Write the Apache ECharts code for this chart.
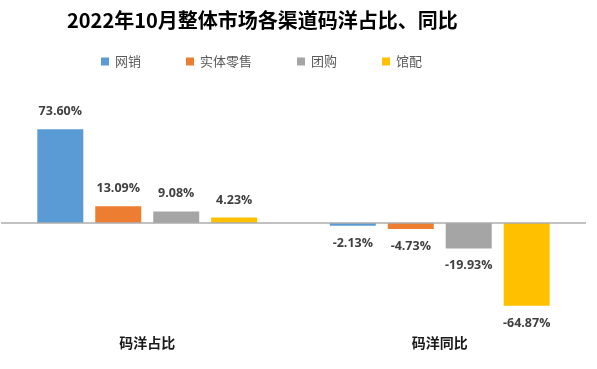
<!DOCTYPE html>
<html><head><meta charset="utf-8">
<script src="https://cdn.jsdelivr.net/npm/echarts@6/dist/echarts.min.js"></script>
<style>html,body{margin:0;padding:0;background:#fff}#c{width:597px;height:369px}</style>
</head><body><div id="c"></div>
<script>
const categories = ['码洋占比', '码洋同比'];
const seriesNames = ['网销', '实体零售', '团购', '馆配'];
const wangxiao = [73.60, -2.13];
const shiti = [13.09, -4.73];
const tuangou = [9.08, -19.93];
const guanpei = [4.23, -64.87];
const colors = ['#5B9BD5', '#ED7D31', '#A5A5A5', '#FFC000'];
const allValues = [wangxiao, shiti, tuangou, guanpei];

const chart = echarts.init(document.getElementById('c'));
const series = allValues.map((vals, i) => ({
  name: seriesNames[i],
  type: 'bar',
  barWidth: 46,
  barGap: '26%',
  itemStyle: { color: colors[i] },
  data: vals.map(v => ({
    value: v,
    label: { position: v < 0 ? 'bottom' : 'top' }
  })),
  label: {
    show: true,
    distance: 11,
    formatter: p => p.value.toFixed(2) + '%',
    color: '#404040',
    fontWeight: 'bold',
    fontSize: 12.5,
    fontFamily: '"Open Sans", "Noto Sans", sans-serif'
  },
  markLine: i === 0 ? {
    silent: true, symbol: 'none',
    label: { show: false },
    lineStyle: { color: '#ADADAD', width: 1.5, type: 'solid' },
    data: [{ yAxis: 0 }]
  } : undefined
}));

chart.setOption({
  animation: false,
  title: {
    text: '2022年10月整体市场各渠道码洋占比、同比',
    left: 62, top: 5,
    textStyle: { fontSize: 20, fontWeight: 'bold', color: '#000', fontFamily: '"Noto Sans CJK SC", sans-serif' }
  },
  legend: {
    left: 96, top: 50,
    itemWidth: 8, itemHeight: 8, itemGap: 45,
    icon: 'rect',
    textStyle: { fontSize: 13, color: '#595959', fontFamily: '"Noto Sans CJK SC", sans-serif', padding: [0, 0, 0, 1] },
    data: seriesNames
  },
  grid: { left: 1, right: 11, top: 95.5, bottom: 44, containLabel: false },
  xAxis: {
    type: 'category',
    data: categories,
    axisLine: { show: false, onZero: false },
    axisTick: { show: false },
    axisLabel: { margin: 11, fontSize: 14, fontWeight: 'bold', color: '#1a1a1a', fontFamily: '"Noto Sans CJK SC", sans-serif' }
  },
  yAxis: {
    type: 'value', min: -80, max: 100, show: false,
    splitLine: { show: false }
  },
  series
});
</script></body></html>
